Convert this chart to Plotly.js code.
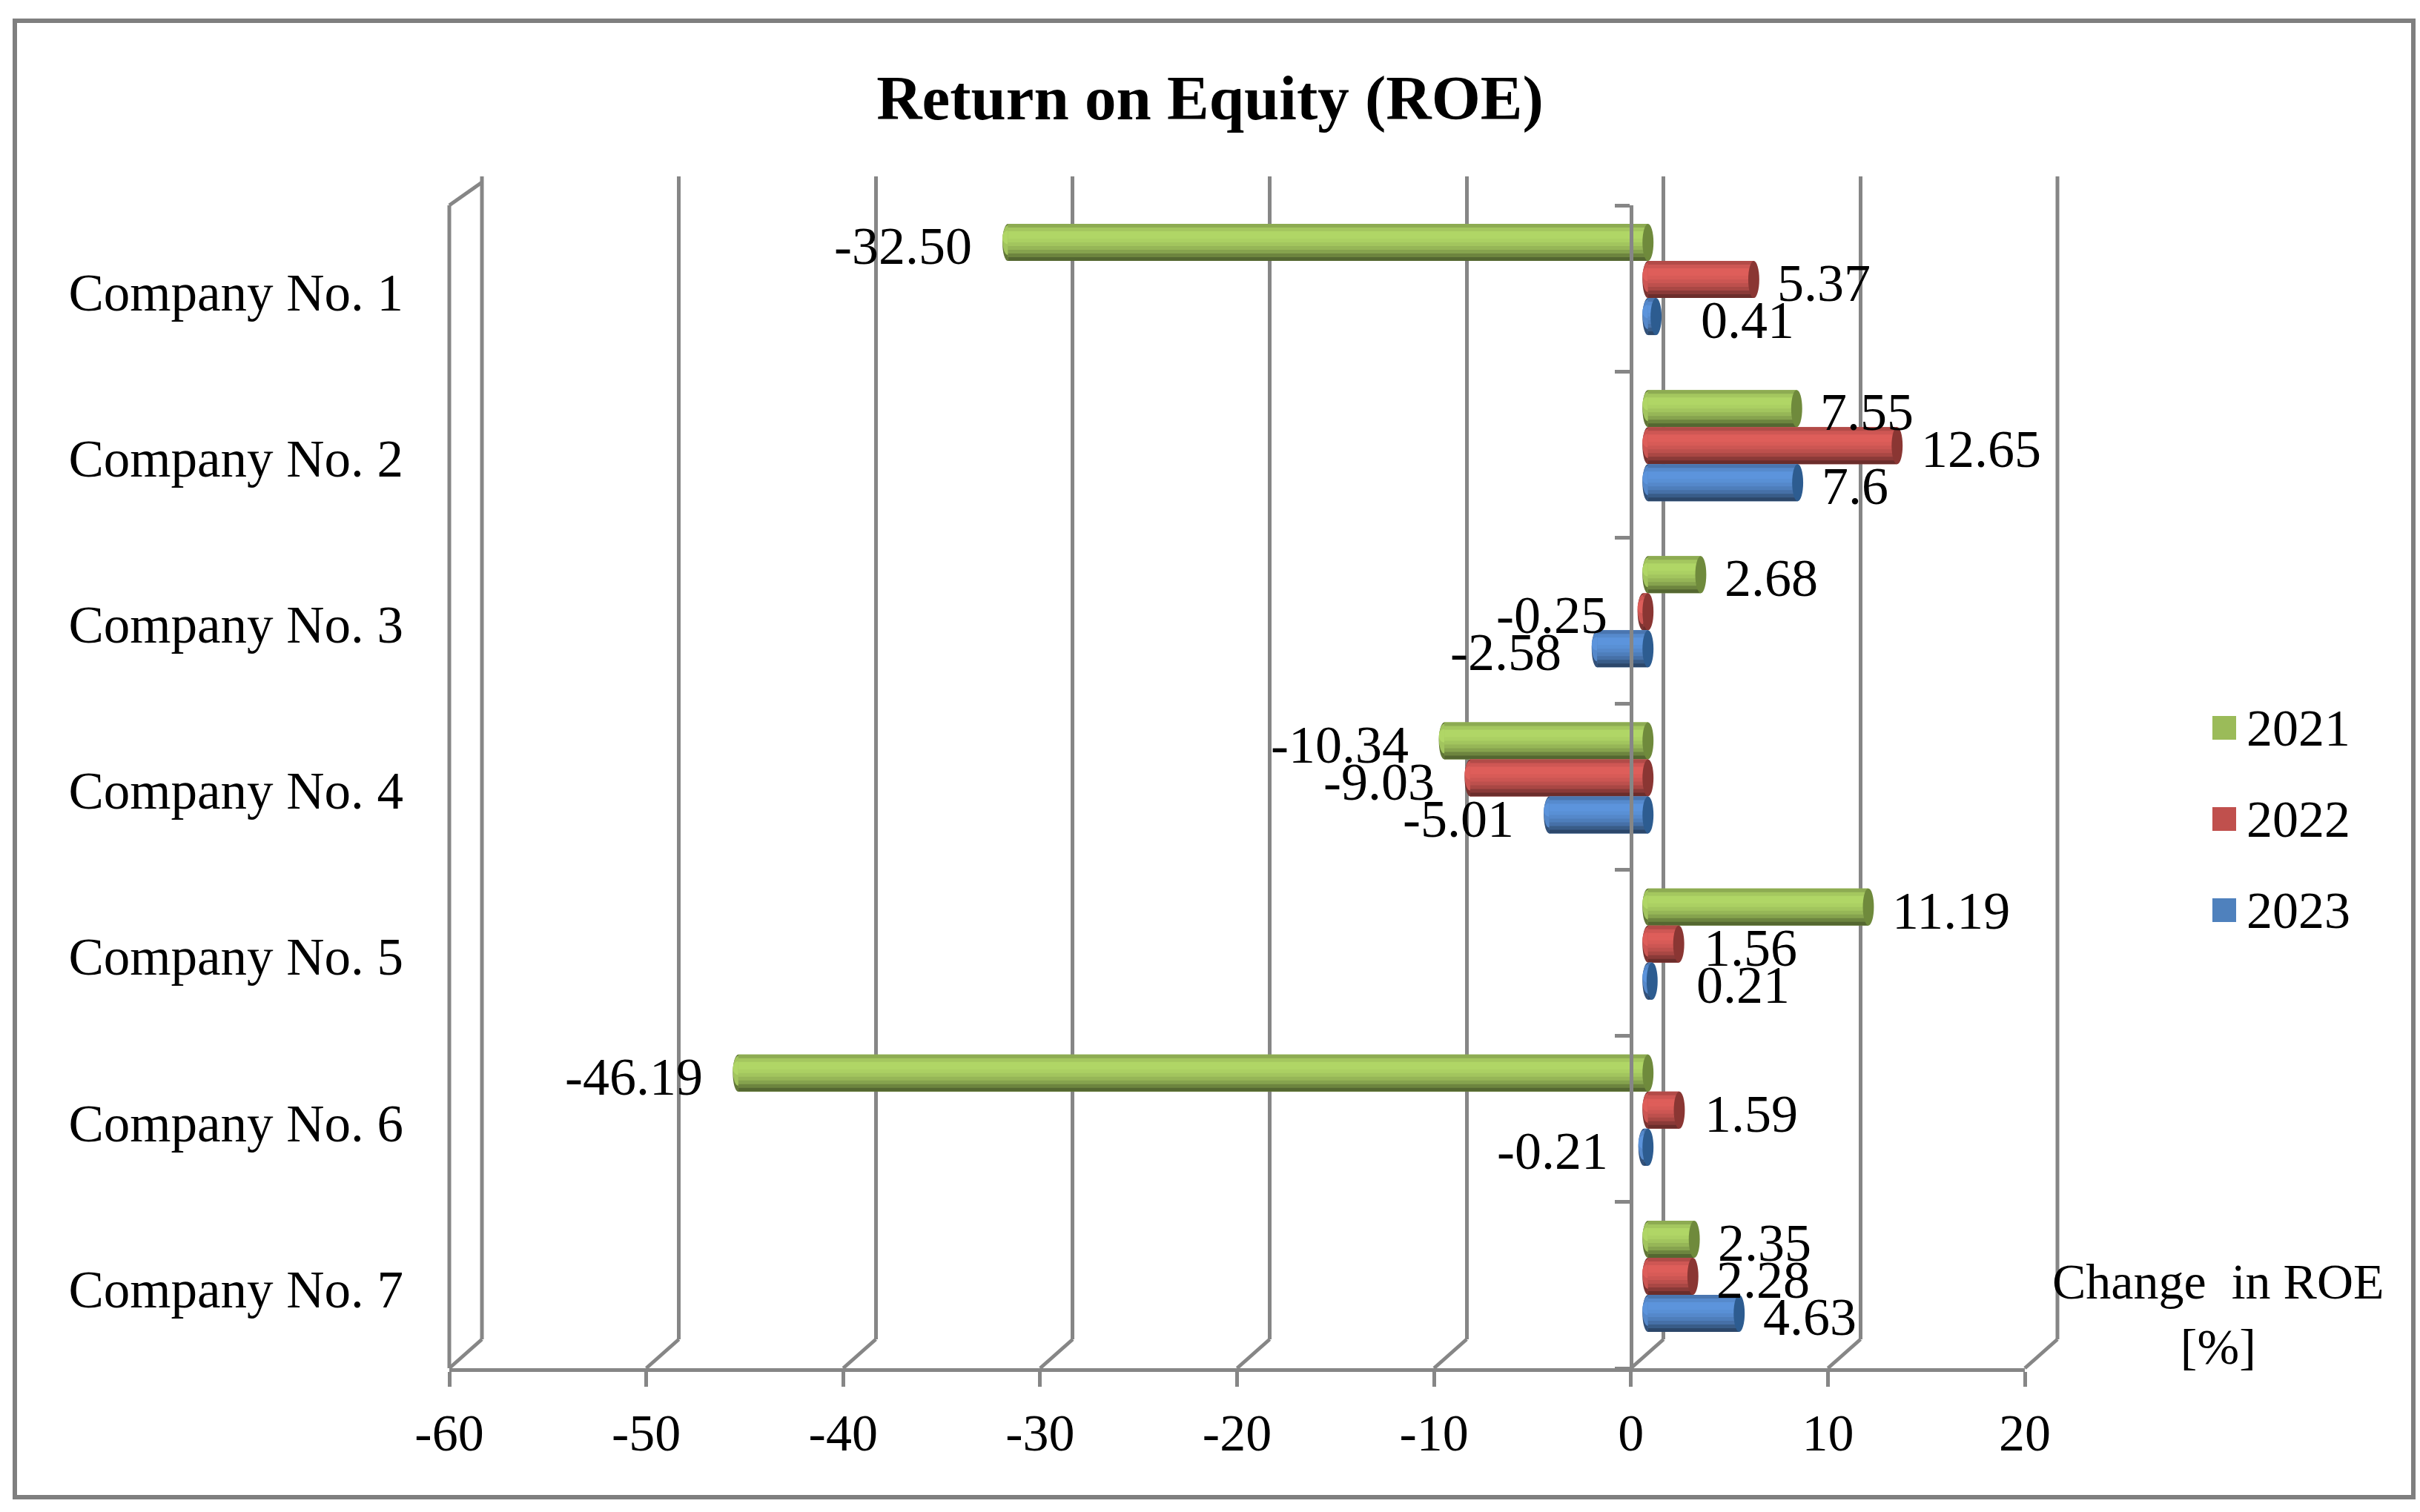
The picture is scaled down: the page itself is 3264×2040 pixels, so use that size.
<!DOCTYPE html>
<html><head><meta charset="utf-8">
<script src="https://cdn.plot.ly/plotly-3.0.1.min.js"></script>
<style>html,body{margin:0;padding:0;background:#fff}#c{width:3264px;height:2040px}</style>
</head><body><div id="c"></div>
<script>
const categories = ['Company No. 1','Company No. 2','Company No. 3','Company No. 4','Company No. 5','Company No. 6','Company No. 7'];
const seriesNames = ['2021','2022','2023'];
const values2021 = [-32.50, 7.55, 2.68, -10.34, 11.19, -46.19, 2.35];
const values2022 = [5.37, 12.65, -0.25, -9.03, 1.56, 1.59, 2.28];
const values2023 = [0.41, 7.6, -2.58, -5.01, 0.21, -0.21, 4.63];
const labels2021 = ['-32.50','7.55','2.68','-10.34','11.19','-46.19','2.35'];
const labels2022 = ['5.37','12.65','-0.25','-9.03','1.56','1.59','2.28'];
const labels2023 = ['0.41','7.6','-2.58','-5.01','0.21','-0.21','4.63'];
const tickValues = [-60,-50,-40,-30,-20,-10,0,10,20];
const tickLabels = ['-60','-50','-40','-30','-20','-10','0','10','20'];

const W = 3264, H = 2040;
const FONT = '"Liberation Serif","Times New Roman",serif';
const GRID = '#868686';
const fx = p => p / W, fy = p => 1 - p / H;
// plane geometry in page pixels
const L = 606, R = 2731, T = 277, B = 1846, DX = 44, DY = 39;
const midDX = 23, midDY = 12, labelDY = 5;
const domX = d => [fx(L + d), fx(R + d)];
const domY = d => [fy(B + d), fy(T + d)];
const xRange = [-60, 20];
const yRange = [categories.length - 0.5, -0.5];
const ppu = (R - L) / (xRange[1] - xRange[0]);
const zeroFrac = (L + (0 - xRange[0]) * ppu) / W;
// same scale as the front axis, but spanning the page so depth lines are not cut off
const wideRange = [xRange[0] - L / ppu, xRange[0] + (W - L) / ppu];

const allValues = [values2021, values2022, values2023];
const allLabels = [labels2021, labels2022, labels2023];
const baseColor = ['#9bbb59', '#c0504d', '#4f81bd'];
const peak = [[176, 214, 102], [222, 94, 90], [92, 148, 220]];
const capColor = ['#6f8a3c', '#8a3633', '#2d5c90'];
const shade = [0.80, 0.93, 1, 1, 0.97, 0.92, 0.85, 0.76, 0.62, 0.48];
const mul = (c, k) => 'rgb(' + c.map(v => Math.round(v * k)).join(',') + ')';

const barH = 50 / ((B - T) / categories.length);
const capHalf = 0.28; // cap half-width, axis units

const traces = [];
const shapes = [];
const annotations = [];

allValues.forEach((vals, s) => {
  const top = (s - 1.5) * barH;
  traces.push({
    type: 'bar', orientation: 'h', x: vals, y: categories, name: seriesNames[s],
    xaxis: 'x2', yaxis: 'y2', legendgroup: seriesNames[s], showlegend: true,
    offset: top, width: barH, hoverinfo: 'x+y+name',
    marker: {color: baseColor[s], line: {width: 0}}
  });
  shade.forEach((k, i) => {
    const w = barH / shade.length;
    traces.push({
      type: 'bar', orientation: 'h', x: vals, y: categories,
      xaxis: 'x2', yaxis: 'y2', legendgroup: seriesNames[s], showlegend: false,
      offset: top + i * w, width: w * 1.15 > barH - i * w ? barH - i * w : w * 1.15, hoverinfo: 'skip',
      marker: {color: mul(peak[s], k), line: {width: 0}}
    });
  });
  vals.forEach((v, i) => {
    const y0 = i + top, y1 = y0 + barH;
    const lo = Math.min(v, 0), hi = Math.max(v, 0);
    // rounded far side of the cylinder, below the bars
    [[0, 1, 0.55], [0.04, 0.84, 0.92], [0.18, 0.55, 1]].forEach(e => {
      shapes.push({type: 'circle', layer: 'below', xref: 'x2', yref: 'y2',
        x0: lo - capHalf, x1: lo + capHalf,
        y0: y0 + e[0] * barH, y1: y0 + e[1] * barH,
        fillcolor: mul(peak[s], e[2]), line: {width: 0}});
    });
    // end cap of the cylinder, above the bars
    shapes.push({type: 'circle', layer: 'above', xref: 'x2', yref: 'y2',
      x0: hi - capHalf, x1: hi + capHalf, y0: y0, y1: y1,
      fillcolor: capColor[s], line: {width: 0}});
    // short bars push their labels further out
    const gap = v < 0 ? -46 : (v < 1 ? 58 : (v < 2 ? 32 : 30));
    annotations.push({
      xref: 'x2', yref: 'y2', x: v, y: i + top + barH / 2,
      text: allLabels[s][i], showarrow: false,
      xanchor: v < 0 ? 'right' : 'left', yanchor: 'middle',
      xshift: gap, yshift: -5,
      font: {family: FONT, size: 72, color: '#000'}
    });
  });
});

// axis title
annotations.push({xref: 'paper', yref: 'paper', x: fx(2992), y: fy(1773), xanchor: 'center', yanchor: 'middle',
  text: 'Change  in ROE<br>[%]', showarrow: false, align: 'center',
  font: {family: FONT, size: 68, color: '#000'}});

const line = {color: GRID, width: 5};
// depth diagonals from the front axis to the back wall
tickValues.forEach(t => {
  shapes.push({type: 'line', layer: 'below', xref: 'x4', yref: 'y3 domain',
    xsizemode: 'pixel', ysizemode: 'pixel', xanchor: t, yanchor: 0,
    x0: 0, x1: DX, y0: 0, y1: DY, line});
});
// back-wall lines at the two ends of the range, which the axis grid leaves out
xRange.forEach(t => {
  shapes.push({type: 'line', layer: 'below', xref: 'x4', yref: 'y domain',
    xsizemode: 'pixel', xanchor: t, x0: DX, x1: DX, y0: 0, y1: 1, line});
});
// front-left edge and its top diagonal
shapes.push({type: 'line', layer: 'below', xref: 'x4', yref: 'y3 domain', x0: xRange[0], x1: xRange[0], y0: 0, y1: 1, line});
shapes.push({type: 'line', layer: 'below', xref: 'x4', yref: 'y3 domain',
  xsizemode: 'pixel', ysizemode: 'pixel', xanchor: xRange[0], yanchor: 1, x0: 0, x1: DX, y0: 0, y1: 31, line});
// outer frame
shapes.push({type: 'rect', layer: 'below', xref: 'paper', yref: 'paper',
  x0: fx(20), x1: fx(3255), y0: fy(2020), y1: fy(28), line: {color: '#7f7f7f', width: 6}, fillcolor: 'rgba(0,0,0,0)'});
// enlarged legend swatches behind the legend's own keys
seriesNames.forEach((n, s) => {
  const cy = 982 + s * 123;
  shapes.push({type: 'rect', layer: 'below', xref: 'paper', yref: 'paper',
    x0: fx(2984), x1: fx(3016), y0: fy(cy + 16), y1: fy(cy - 16), fillcolor: baseColor[s], line: {width: 0}});
});

const layout = {
  width: W, height: H, margin: {l: 0, r: 0, t: 0, b: 0}, autosize: false,
  paper_bgcolor: '#fff', plot_bgcolor: 'rgba(0,0,0,0)',
  barmode: 'overlay', showlegend: true,
  title: {text: '<b>Return on Equity (ROE)</b>', x: fx(1632), y: fy(131), xanchor: 'center', yanchor: 'middle',
    font: {family: FONT, size: 85, color: '#000'}},
  legend: {x: fx(2990), y: fy(927), xanchor: 'left', yanchor: 'top', tracegroupgap: 29, traceorder: 'grouped',
    bgcolor: 'rgba(0,0,0,0)', font: {family: FONT, size: 70, color: '#000'}, itemclick: false, itemdoubleclick: false},
  // back wall
  xaxis: {domain: domX(DX), range: xRange, anchor: 'y', tickmode: 'array', tickvals: tickValues, ticktext: tickLabels,
    showticklabels: false, ticks: '', showline: false, zeroline: false, showgrid: true, gridcolor: GRID, gridwidth: 5, fixedrange: true},
  yaxis: {domain: domY(-DY), range: yRange, anchor: 'x', showticklabels: false, ticks: '', showline: false, zeroline: false, showgrid: false, fixedrange: true},
  // bars, half way through the depth
  xaxis2: {domain: domX(midDX), range: xRange, anchor: 'y2', visible: false, fixedrange: true},
  yaxis2: {domain: domY(-midDY), range: yRange, anchor: 'x2', type: 'category', categoryorder: 'array', categoryarray: categories, visible: false, fixedrange: true},
  // front: value axis and zero line with category ticks
  xaxis3: {domain: domX(0), range: xRange, anchor: 'y3', tickmode: 'array', tickvals: tickValues, ticktext: tickLabels,
    showline: true, linecolor: GRID, linewidth: 5, ticks: 'outside', ticklen: 20, tickwidth: 5, tickcolor: GRID,
    showgrid: false, zeroline: false, ticklabelstandoff: 2, tickfont: {family: FONT, size: 70, color: '#000'}, fixedrange: true},
  yaxis3: {domain: domY(0), range: yRange, anchor: 'free', position: zeroFrac, side: 'left',
    tickmode: 'array', tickvals: Array.from({length: categories.length + 1}, (_, i) => i - 0.5),
    showticklabels: false, showline: true, linecolor: GRID, linewidth: 5, ticks: 'outside', ticklen: 20, tickwidth: 5, tickcolor: GRID,
    showgrid: false, zeroline: false, fixedrange: true},
  // category labels at the left
  yaxis4: {domain: domY(labelDY), range: yRange, anchor: 'free', position: fx(L), side: 'left',
    tickmode: 'array', tickvals: categories.map((_, i) => i), ticktext: categories,
    showline: false, ticks: '', showgrid: false, zeroline: false, ticklabelstandoff: 62,
    tickfont: {family: FONT, size: 71, color: '#000'}, fixedrange: true},
  // page-wide reference scale for depth lines
  xaxis4: {domain: [0, 1], range: wideRange, anchor: 'y3', visible: false, fixedrange: true},
  shapes, annotations
};
// keep the axis-only subplots alive
traces.unshift({type: 'scatter', x: [], y: [], xaxis: 'x', yaxis: 'y', showlegend: false, hoverinfo: 'skip'});
traces.push({type: 'scatter', x: [], y: [], xaxis: 'x3', yaxis: 'y3', showlegend: false, hoverinfo: 'skip'});
traces.push({type: 'scatter', x: [], y: [], xaxis: 'x3', yaxis: 'y4', showlegend: false, hoverinfo: 'skip'});
traces.push({type: 'scatter', x: [], y: [], xaxis: 'x4', yaxis: 'y3', showlegend: false, hoverinfo: 'skip'});

Plotly.newPlot('c', traces, layout, {displayModeBar: false, responsive: false});
</script></body></html>
